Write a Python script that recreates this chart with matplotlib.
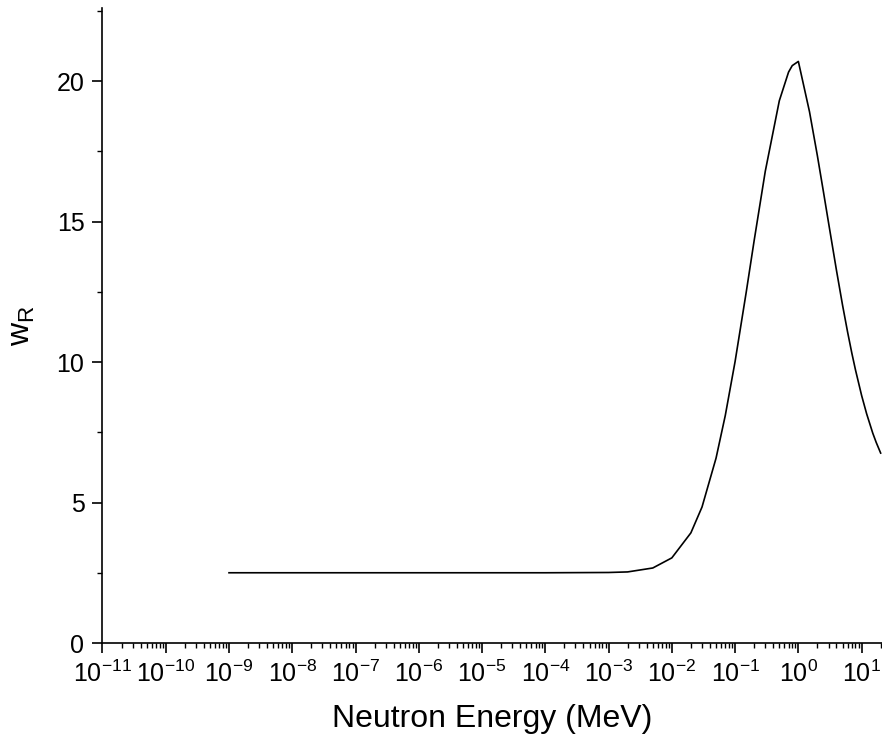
import matplotlib
matplotlib.use('Agg')
import matplotlib.pyplot as plt
from matplotlib.ticker import LogLocator, MultipleLocator, NullFormatter

plt.rcParams['font.family'] = ['Liberation Sans', 'DejaVu Sans']
plt.rcParams['mathtext.fontset'] = 'custom'
plt.rcParams['mathtext.rm'] = 'Liberation Sans'
plt.rcParams['mathtext.it'] = 'Liberation Sans'
plt.rcParams['mathtext.default'] = 'regular'
plt.rcParams['axes.unicode_minus'] = False

# neutron energy (MeV) and radiation weighting factor
energy = [1e-9, 1e-8, 1e-7, 1e-6, 1e-5, 1e-4, 1e-3, 2e-3, 5e-3, 1e-2, 2e-2, 3e-2,
          5e-2, 7e-2, 0.1, 0.15, 0.2, 0.3, 0.5, 0.7, 0.8, 1.0,
          1.5, 2.0, 2.5, 3.0, 4.0, 5.0, 6.0, 7.0, 8.0, 10.0, 12.0, 15.0, 17.0, 20.0]
w_r = [2.50, 2.50, 2.50, 2.50, 2.50, 2.50, 2.51, 2.53, 2.67, 3.03, 3.92, 4.84,
       6.58, 8.10, 10.02, 12.49, 14.32, 16.79, 19.30, 20.32, 20.55, 20.70,
       18.91, 17.34, 16.04, 14.96, 13.27, 12.02, 11.07, 10.32, 9.72, 8.81, 8.16, 7.47, 7.14, 6.76]

fig = plt.figure(figsize=(8.82, 7.51), dpi=100)
ax = fig.add_axes([0.1162, 0.1438, 0.8838, 0.8455])

ax.plot(energy, w_r, color='black', linewidth=1.2)

ax.set_xscale('log')
ax.set_xlim(1e-11, 21)
ax.set_ylim(0, 22.6)

ax.xaxis.set_major_locator(LogLocator(base=10, numticks=20))
ax.xaxis.set_minor_locator(LogLocator(base=10, subs=range(2, 10), numticks=20))
ax.xaxis.set_minor_formatter(NullFormatter())
ax.yaxis.set_major_locator(MultipleLocator(5))
ax.yaxis.set_minor_locator(MultipleLocator(2.5))

for s in ['top', 'right']:
    ax.spines[s].set_visible(False)
for s in ['left', 'bottom']:
    ax.spines[s].set_linewidth(1.2)

ax.tick_params(which='major', direction='out', length=7, width=1.2, labelsize=18, pad=6)
ax.tick_params(which='minor', direction='out', length=3.5, width=1.0)

ax.set_xlabel('Neutron Energy (MeV)', fontsize=23, labelpad=12)
ax.set_ylabel(r'w$_\mathrm{R}$', fontsize=23, labelpad=14)

fig.savefig('out.png', dpi=100)
